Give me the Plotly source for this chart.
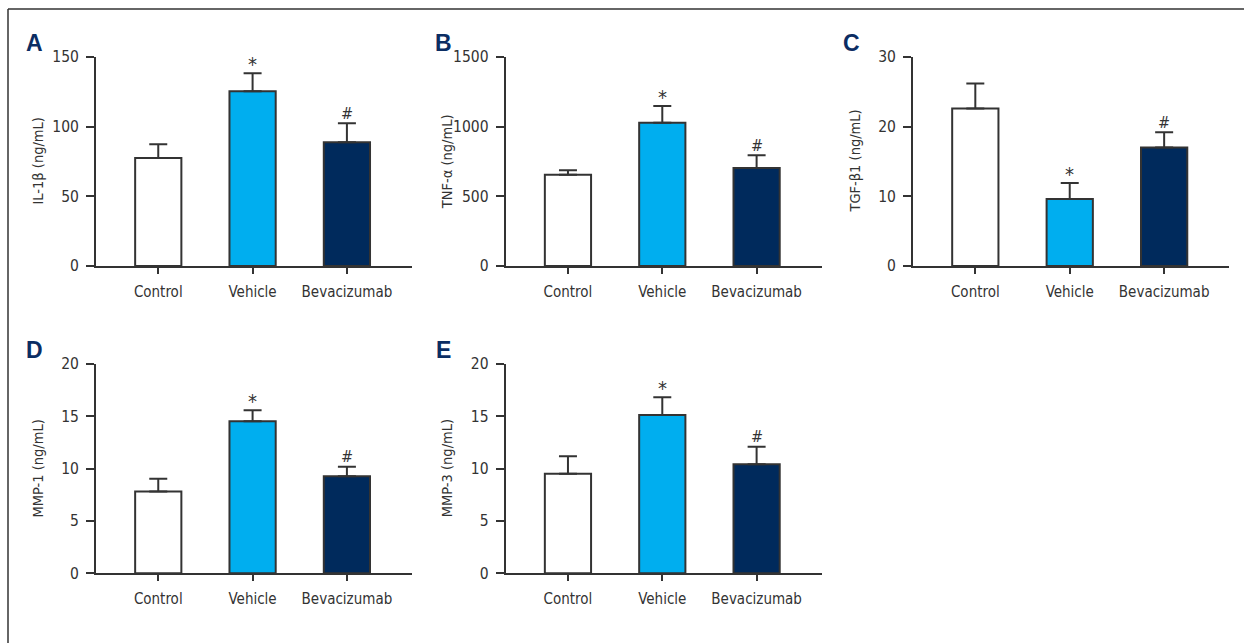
import plotly.graph_objects as go

W, H = 1244, 643

categories = ["Control", "Vehicle", "Bevacizumab"]
bar_colors = ["#FFFFFF", "#00AEEF", "#002A5C"]

panel_letters = ["A", "B", "C", "D", "E"]
y_titles = ["IL-1β (ng/mL)", "TNF-α (ng/mL)", "TGF-β1 (ng/mL)", "MMP-1 (ng/mL)", "MMP-3 (ng/mL)"]

il1b_mean = [77.5, 125.4, 88.8]
il1b_err = [9.8, 12.9, 13.6]
tnfa_mean = [655, 1029, 703]
tnfa_err = [32, 119, 91]
tgfb1_mean = [22.6, 9.6, 17.0]
tgfb1_err = [3.6, 2.3, 2.2]
mmp1_mean = [7.8, 14.5, 9.25]
mmp1_err = [1.23, 1.05, 0.92]
mmp3_mean = [9.5, 15.1, 10.4]
mmp3_err = [1.66, 1.69, 1.68]

y_max = [150, 1500, 30, 20, 20]
y_dtick = [50, 500, 10, 5, 5]
# significance marks per category (Control, Vehicle, Bevacizumab)
sig_marks = [["", "*", "#"]] * 5

means = [il1b_mean, tnfa_mean, tgfb1_mean, mmp1_mean, mmp3_mean]
errs = [il1b_err, tnfa_err, tgfb1_err, mmp1_err, mmp3_err]

# pixel layout (in a 1244x643 frame)
col_px = [(96, 412), (505.7, 821.7), (913, 1229.3)]
row_px = [(57, 266), (363.7, 573.3)]
cells = [(0, 0), (0, 1), (0, 2), (1, 0), (1, 1)]

FONT = "DejaVu Sans Condensed, Liberation Sans Narrow, sans-serif"
AX = "#333333"

fig = go.Figure()
annotations = []
layout = {}

for i in range(5):
    r, c = cells[i]
    x0, x1 = col_px[c]
    yt, yb = row_px[r]
    xd = [x0 / W, x1 / W]
    yd = [1 - yb / H, 1 - yt / H]
    n = "" if i == 0 else str(i + 1)
    xa, ya = "x" + n, "y" + n
    fig.add_trace(go.Bar(
        x=categories, y=means[i], xaxis=xa, yaxis=ya,
        width=0.49,
        marker=dict(color=bar_colors, line=dict(color=AX, width=2)),
        error_y=dict(type="data", symmetric=False, array=errs[i],
                     arrayminus=[0, 0, 0], color=AX, thickness=2, width=9),
        showlegend=False, hoverinfo="skip",
    ))
    layout["xaxis" + n] = dict(
        domain=xd, anchor=ya, range=[-0.66, 2.69], type="category",
        showline=True, linecolor=AX, linewidth=2, ticks="outside",
        ticklen=6, tickwidth=2, tickcolor=AX, showgrid=False, zeroline=False,
        tickfont=dict(family=FONT, size=15, color="#333333"),
        ticklabelstandoff=5, fixedrange=True, automargin=False,
    )
    layout["yaxis" + n] = dict(
        domain=yd, anchor=xa, range=[0, y_max[i]], dtick=y_dtick[i], tick0=0,
        showline=True, linecolor=AX, linewidth=2, ticks="outside",
        ticklen=8, tickwidth=2, tickcolor=AX, showgrid=False, zeroline=False,
        tickfont=dict(family=FONT, size=15.5, color="#333333"),
        ticklabelstandoff=4, fixedrange=True, automargin=False,
    )
    # y-axis title
    annotations.append(dict(
        text=y_titles[i], xref="paper", yref="paper",
        x=(x0 - 58) / W, y=(yd[0] + yd[1]) / 2, textangle=-90,
        showarrow=False, xanchor="center", yanchor="middle",
        font=dict(family=FONT, size=14.5, color="#333333"),
    ))
    # panel letter
    annotations.append(dict(
        text="<b>" + panel_letters[i] + "</b>", xref="paper", yref="paper",
        x=(x0 - 62) / W, y=1 - (yt - 14) / H,
        showarrow=False, xanchor="center", yanchor="middle",
        font=dict(family="Liberation Sans, Arial, sans-serif", size=23, color="#0B2D63"),
    ))
    # significance marks
    for k, m in enumerate(sig_marks[i]):
        if m:
            annotations.append(dict(
                text=m, xref=xa, yref=ya, x=categories[k],
                y=means[i][k] + errs[i][k], yshift=-5 if m == "*" else -1.5,
                showarrow=False, xanchor="center", yanchor="bottom",
                font=dict(family=FONT, size=20 if m == "*" else 16, color="#333333"),
            ))

shapes = [
    dict(type="line", xref="paper", yref="paper", x0=8 / W, x1=1.0, y0=1 - 9 / H, y1=1 - 9 / H,
         line=dict(color="#333333", width=1.5)),
    dict(type="line", xref="paper", yref="paper", x0=8 / W, x1=8 / W, y0=0, y1=1 - 9 / H,
         line=dict(color="#333333", width=1.5)),
]

fig.update_layout(
    template="none",
    width=W, height=H, autosize=False,
    margin=dict(l=0, r=0, t=0, b=0, pad=0, autoexpand=False),
    paper_bgcolor="white", plot_bgcolor="white",
    annotations=annotations, shapes=shapes, bargap=0.5,
    **layout,
)

post = """
document.documentElement.style.margin = '0';
document.documentElement.style.overflow = 'hidden';
document.body.style.margin = '0';
document.body.style.overflow = 'hidden';
"""

fig.write_html(
    "out.html",
    config={"displayModeBar": False},
    post_script=post,
)
